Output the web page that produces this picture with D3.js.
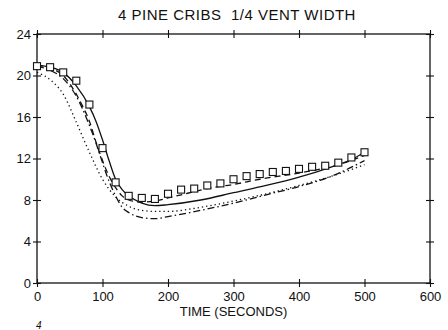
<!DOCTYPE html>
<html>
<head>
<meta charset="utf-8">
<script src="https://cdn.jsdelivr.net/npm/d3@7"></script>
<style>
  body { margin: 0; background: #fff; }
  svg { display: block; font-family: "Liberation Sans", Arial, sans-serif; }
  .tick text { font-size: 13px; fill: #111; }
</style>
</head>
<body>
<svg></svg>
<script>
// measured squares (every 20 s)
const obsTime = d3.range(0, 501, 20);
const obsValue = [20.9, 20.8, 20.3, 19.5, 17.2, 13.0, 9.7, 8.4, 8.2, 8.1, 8.6, 9.0, 9.1,
                  9.4, 9.6, 10.0, 10.3, 10.5, 10.7, 10.8, 11.0, 11.2, 11.3, 11.6, 12.1, 12.6];

// model curves
const solidT = [0, 20, 40, 60, 80, 90, 100, 110, 120, 130, 140, 160, 180, 200, 250, 300, 350, 400, 450, 480, 500];
const solidV = [21.0, 20.8, 20.3, 19.0, 17.0, 15.6, 13.8, 11.8, 10.0, 9.0, 8.4, 7.7, 7.45, 7.55, 8.0, 8.7, 9.4, 10.2, 11.2, 11.9, 12.6];

const dashT = [0, 20, 40, 60, 70, 80, 90, 100, 110, 120, 130, 140, 160, 180, 200, 220, 240, 260, 300, 340, 400, 460, 500];
const dashV = [21.0, 20.7, 20.0, 18.2, 17.0, 15.6, 13.6, 11.8, 10.3, 9.2, 8.4, 8.0, 7.8, 7.9, 8.2, 8.5, 8.8, 9.1, 9.5, 10.0, 10.6, 11.4, 12.3];

const dashDotT = [0, 20, 40, 60, 80, 90, 100, 110, 120, 130, 140, 160, 180, 200, 250, 300, 350, 400, 450, 500];
const dashDotV = [20.9, 20.5, 19.7, 18.0, 15.2, 13.5, 11.6, 9.8, 8.4, 7.3, 6.8, 6.3, 6.2, 6.4, 7.0, 7.7, 8.5, 9.3, 10.3, 11.8];

const dotT = [0, 20, 40, 60, 80, 100, 120, 140, 160, 180, 200, 250, 300, 350, 400, 450, 500];
const dotV = [20.3, 19.6, 18.2, 15.5, 12.6, 10.0, 8.3, 7.4, 7.0, 6.9, 6.9, 7.3, 7.9, 8.6, 9.4, 10.3, 11.4];

const xTicks = [0, 100, 200, 300, 400, 500, 600];
const yTicks = [0, 4, 8, 12, 16, 20, 24];

const title = "4 PINE CRIBS\u00a0\u00a01/4 VENT WIDTH";
const xLabel = "TIME (SECONDS)";

const width = 448, height = 330, margin = { top: 34, right: 18, bottom: 47, left: 37 };

const svg = d3.select("svg")
  .attr("width", width)
  .attr("height", height);

const x = d3.scaleLinear().domain([0, 600]).range([margin.left, width - margin.right]);
const y = d3.scaleLinear().domain([0, 24]).range([height - margin.bottom, margin.top]);

// frame
svg.append("rect")
  .attr("x", x(0)).attr("y", y(24))
  .attr("width", x(600) - x(0)).attr("height", y(0) - y(24))
  .attr("fill", "none").attr("stroke", "#111").attr("stroke-width", 1.3);

// axes, ticks cross the frame
const axBottom = svg.append("g")
  .attr("transform", `translate(0,${y(0)})`)
  .call(d3.axisBottom(x).tickValues(xTicks).tickSize(4).tickSizeOuter(0));
axBottom.selectAll("line").attr("y1", -4).attr("y2", 4);
axBottom.selectAll("text").attr("dy", "0.75em").attr("y", 8);

const axTop = svg.append("g")
  .attr("transform", `translate(0,${y(24)})`)
  .call(d3.axisTop(x).tickValues(xTicks).tickSize(4).tickSizeOuter(0).tickFormat(""));
axTop.selectAll("line").attr("y1", -4).attr("y2", 4);

const axLeft = svg.append("g")
  .attr("transform", `translate(${x(0)},0)`)
  .call(d3.axisLeft(y).tickValues(yTicks).tickSize(4).tickSizeOuter(0));
axLeft.selectAll("line").attr("x1", -4).attr("x2", 4);
axLeft.selectAll("text").attr("x", -6);

const axRight = svg.append("g")
  .attr("transform", `translate(${x(600)},0)`)
  .call(d3.axisRight(y).tickValues(yTicks).tickSize(4).tickSizeOuter(0).tickFormat(""));
axRight.selectAll("line").attr("x1", -4).attr("x2", 4);

svg.selectAll(".domain").remove();
svg.selectAll(".tick line").attr("stroke", "#111").attr("stroke-width", 1.1);

// curves
const line = d3.line()
  .x(d => x(d[0]))
  .y(d => y(d[1]))
  .curve(d3.curveMonotoneX);

const series = [
  { t: solidT, v: solidV, dash: null },
  { t: dashT, v: dashV, dash: "6,4" },
  { t: dashDotT, v: dashDotV, dash: "7,3,1.5,3" },
  { t: dotT, v: dotV, dash: "1.3,3" }
];

series.forEach(s => {
  svg.append("path")
    .datum(d3.zip(s.t, s.v))
    .attr("d", line)
    .attr("fill", "none")
    .attr("stroke", "#111")
    .attr("stroke-width", 1.3)
    .attr("stroke-dasharray", s.dash);
});

// squares
svg.selectAll(".obs")
  .data(d3.zip(obsTime, obsValue))
  .enter()
  .append("rect")
  .attr("class", "obs")
  .attr("x", d => x(d[0]) - 3.5)
  .attr("y", d => y(d[1]) - 3.5)
  .attr("width", 7)
  .attr("height", 7)
  .attr("fill", "#fff")
  .attr("stroke", "#111")
  .attr("stroke-width", 1.1);

// title
svg.append("text")
  .attr("x", 237)
  .attr("y", 20)
  .style("text-anchor", "middle")
  .style("font-size", "15px")
  .style("letter-spacing", "0.5px")
  .attr("fill", "#111")
  .text(title);

// x label
svg.append("text")
  .attr("x", (x(0) + x(600)) / 2)
  .attr("y", 316)
  .style("text-anchor", "middle")
  .style("font-size", "13px")
  .attr("fill", "#111")
  .text(xLabel);

// figure number at the bottom edge
svg.append("text")
  .attr("x", 36)
  .attr("y", 329)
  .style("font-size", "10px")
  .style("font-style", "italic")
  .attr("fill", "#111")
  .text("4");
</script>
</body>
</html>
